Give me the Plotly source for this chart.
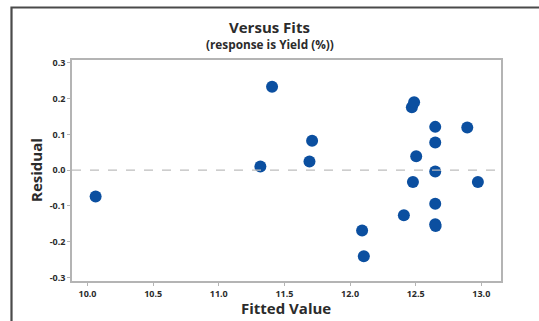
import plotly.graph_objects as go

# Fitted values and residuals from the regression on Yield (%)
fitted = [10.062, 11.317, 11.406, 11.691, 11.711, 12.092, 12.105, 12.410,
          12.471, 12.488, 12.479, 12.504, 12.649, 12.649, 12.649, 12.649,
          12.649, 12.652, 12.893, 12.974]
residual = [-0.074, 0.010, 0.233, 0.024, 0.082, -0.169, -0.241, -0.126,
            0.176, 0.190, -0.033, 0.039, 0.121, 0.077, -0.004, -0.094,
            -0.151, -0.156, 0.119, -0.033]

x_ticks = [10.0, 10.5, 11.0, 11.5, 12.0, 12.5, 13.0]
x_labels = ["10.0", "10.5", "11.0", "11.5", "12.0", "12.5", "13.0"]
y_ticks = [-0.3, -0.2, -0.1, 0.0, 0.1, 0.2, 0.3]
y_labels = ["-0.3", "-0.2", "-0.1", "0.0", "0.1", "0.2", "0.3"]

W, H = 539, 321
ML, MR, MT, MB = 72, 38, 60, 40
PW, PH = W - ML - MR, H - MT - MB


def px_x(px):
    return (px - ML) / PW


def px_y(py):
    return 1 + (MT - py) / PH


FONT = "Open Sans"
TXT = "#2b2b2b"
AXIS_GREY = "#b4b4b4"

fig = go.Figure()
fig.add_trace(go.Scatter(
    x=fitted, y=residual, mode="markers",
    marker=dict(size=12, color="#0b4fa0", line=dict(width=0)),
    hoverinfo="x+y", showlegend=False,
))

fig.add_hline(y=0, line=dict(color="#bdbdbd", width=1.2, dash="dash"))

axis_common = dict(
    showgrid=False, zeroline=False, showline=True, mirror=True,
    linecolor=AXIS_GREY, linewidth=1.5, ticks="outside", ticklen=3,
    tickcolor=AXIS_GREY, tickwidth=1,
    tickfont=dict(family=FONT, size=9, color=TXT, weight="bold"),
)
fig.update_xaxes(range=[9.882, 13.15], tickvals=x_ticks, ticktext=x_labels,
                 **axis_common)
fig.update_yaxes(range=[-0.310, 0.308], tickvals=y_ticks, ticktext=y_labels,
                 **axis_common)

# outer frame (left and top edges)
fig.add_shape(
    type="path", xref="paper", yref="paper",
    path=f"M {px_x(11.5)} {px_y(330)} L {px_x(11.5)} {px_y(7.5)} L {px_x(545)} {px_y(7.5)}",
    line=dict(color="#4a4a4a", width=2.2),
)

annotations = [
    dict(text="<b>Versus Fits</b>", x=px_x(269), y=px_y(26.5),
         font=dict(family=FONT, size=15, color=TXT)),
    dict(text="<b>(response is Yield (%))</b>", x=px_x(269.5), y=px_y(43.5),
         font=dict(family=FONT, size=11.8, color=TXT)),
    dict(text="<b>Fitted Value</b>", x=px_x(286), y=px_y(308),
         font=dict(family=FONT, size=15, color=TXT)),
    dict(text="<b>Residual</b>", x=px_x(36), y=px_y(170), textangle=-90,
         font=dict(family=FONT, size=15, color=TXT)),
]
for a in annotations:
    fig.add_annotation(xref="paper", yref="paper", showarrow=False,
                       xanchor="center", yanchor="middle", **a)

fig.update_layout(
    width=W, height=H, autosize=False,
    margin=dict(l=ML, r=MR, t=MT, b=MB, pad=0),
    paper_bgcolor="white", plot_bgcolor="white",
)

fig.write_html("out.html")
